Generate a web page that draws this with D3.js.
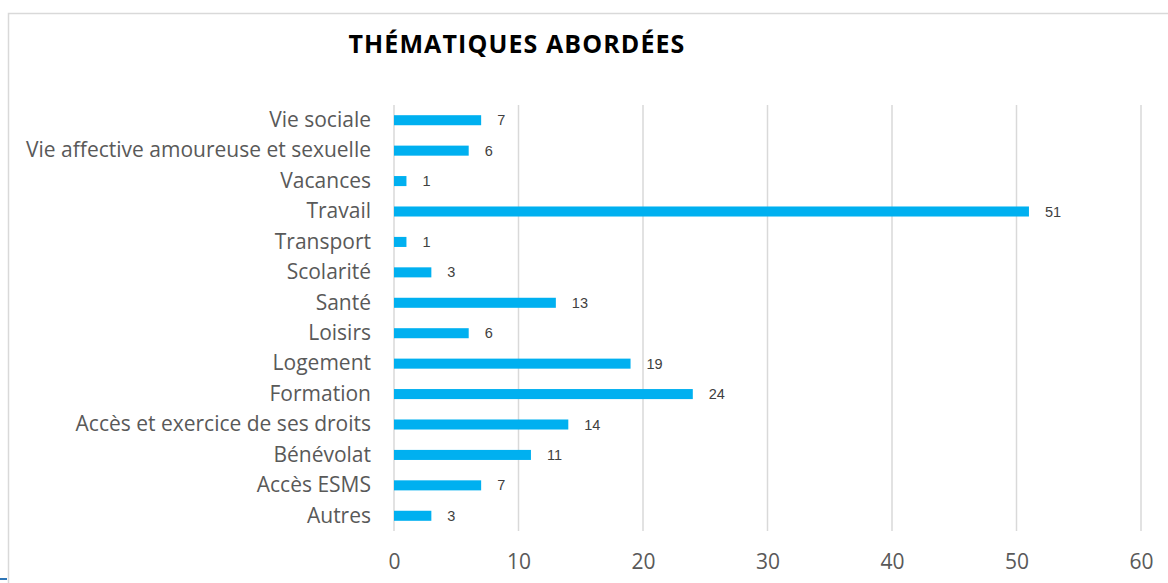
<!DOCTYPE html>
<html>
<head>
<meta charset="utf-8">
<script src="https://cdn.jsdelivr.net/npm/d3@7"></script>
<style>
  html, body { margin: 0; padding: 0; background: #fff; }
  svg { display: block; }
</style>
</head>
<body>
<div id="chart"></div>
<script>
// ─── DATA ───
const categories = [
    'Vie sociale', 'Vie affective amoureuse et sexuelle', 'Vacances', 'Travail',
    'Transport', 'Scolarité', 'Santé', 'Loisirs', 'Logement', 'Formation',
    'Accès et exercice de ses droits', 'Bénévolat', 'Accès ESMS', 'Autres'
];
const counts = [7, 6, 1, 51, 1, 3, 13, 6, 19, 24, 14, 11, 7, 3];
const xTicks = [0, 10, 20, 30, 40, 50, 60];
const title = 'THÉMATIQUES ABORDÉES';

const width = 1168, height = 583;
const margin = { top: 105, right: 27, bottom: 52, left: 394 };

const svg = d3.select('#chart').append('svg')
    .attr('width', width)
    .attr('height', height);

// chart frame
svg.append('rect')
    .attr('x', 8.5).attr('y', 13.5)
    .attr('width', 1200).attr('height', 600)
    .attr('fill', 'none')
    .attr('stroke', '#d9d9d9')
    .attr('stroke-width', 1.5);

svg.append('line')
    .attr('x1', 0).attr('x2', 7)
    .attr('y1', 579).attr('y2', 579)
    .attr('stroke', '#2e75b6').attr('stroke-width', 2);

// title
svg.append('text')
    .attr('x', 517).attr('y', 53)
    .attr('text-anchor', 'middle')
    .attr('font-family', 'Open Sans, sans-serif')
    .attr('font-weight', 'bold')
    .attr('font-size', '25px')
    .attr('letter-spacing', '1.1px')
    .attr('fill', '#000')
    .text(title);

// scales
const x = d3.scaleLinear()
    .domain([0, 60])
    .range([margin.left, margin.left + 12.45 * 60]);

const y = d3.scaleBand()
    .domain(categories)
    .range([margin.top, height - margin.bottom])
    .paddingInner(0.67)
    .paddingOuter(0.335);

// vertical gridlines
svg.append('g')
    .selectAll('line')
    .data(xTicks)
    .enter()
    .append('line')
    .attr('x1', d => x(d)).attr('x2', d => x(d))
    .attr('y1', margin.top).attr('y2', height - margin.bottom)
    .attr('stroke', '#d9d9d9')
    .attr('stroke-width', 1.5);

// x tick labels
svg.append('g')
    .attr('transform', `translate(0,${height - margin.bottom})`)
    .call(d3.axisBottom(x).tickValues(xTicks).tickSize(0).tickPadding(23))
    .call(g => g.select('.domain').remove())
    .call(g => g.selectAll('text')
        .attr('font-family', 'Open Sans, sans-serif')
        .attr('font-size', '21px')
        .attr('fill', '#595959'));

// y axis labels
svg.append('g')
    .attr('transform', `translate(${margin.left},0)`)
    .call(d3.axisLeft(y).tickSize(0).tickPadding(23))
    .call(g => g.select('.domain').remove())
    .call(g => g.selectAll('text')
        .attr('font-family', 'Open Sans, sans-serif')
        .attr('font-size', '21px')
        .attr('fill', '#595959'));

// bars
svg.append('g')
    .selectAll('rect')
    .data(categories)
    .enter()
    .append('rect')
    .attr('x', x(0))
    .attr('y', (d, i) => y(d))
    .attr('width', (d, i) => x(counts[i]) - x(0))
    .attr('height', y.bandwidth())
    .attr('fill', '#00b0f0');

// value labels
svg.append('g')
    .selectAll('text')
    .data(categories)
    .enter()
    .append('text')
    .attr('x', (d, i) => x(counts[i]) + 16)
    .attr('y', d => y(d) + y.bandwidth() / 2)
    .attr('dy', '0.35em')
    .attr('font-family', 'Liberation Sans, Arial, sans-serif')
    .attr('font-size', '14.5px')
    .attr('fill', '#404040')
    .text((d, i) => counts[i]);
</script>
</body>
</html>
